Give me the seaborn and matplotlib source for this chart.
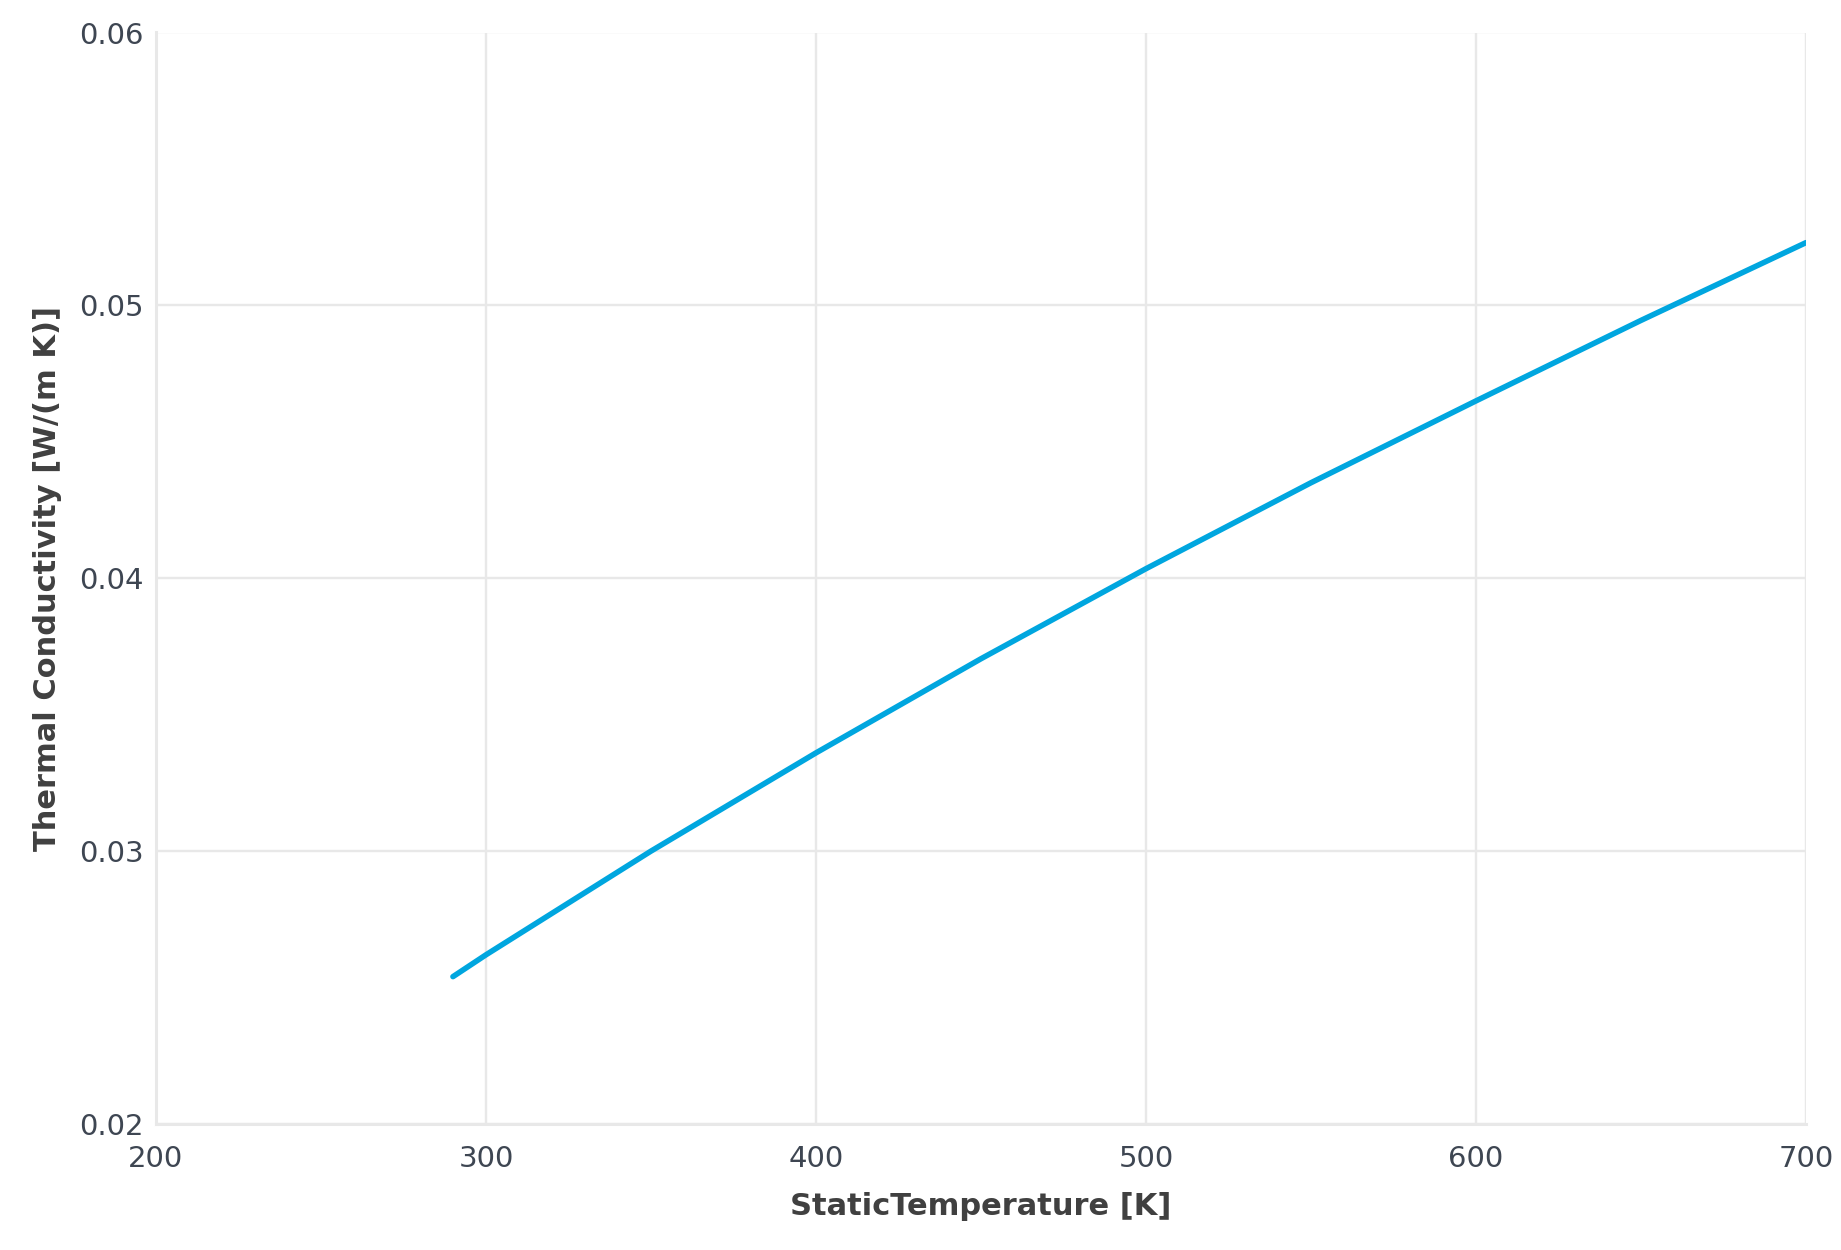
import matplotlib
matplotlib.use("Agg")
import matplotlib.pyplot as plt
import seaborn as sns
import pandas as pd

temperature = [290, 300, 350, 400, 450, 500, 550, 600, 650, 700]
conductivity = [0.0254, 0.0262, 0.0300, 0.0336, 0.03705, 0.04035, 0.0435, 0.0465, 0.04945, 0.0523]
x_ticks = [200, 300, 400, 500, 600, 700]
y_ticks = [0.02, 0.03, 0.04, 0.05, 0.06]
y_tick_labels = ["0.02", "0.03", "0.04", "0.05", "0.06"]

df = pd.DataFrame({"T": temperature, "k": conductivity})

sns.set_theme(style="white")
plt.rcParams['font.family'] = ['DejaVu Sans']

fig = plt.figure(figsize=(18.41, 12.50), dpi=100)
ax = fig.add_axes([0.0847, 0.1008, 0.981 - 0.0847, 0.974 - 0.1008])

grid_c = "#e8e8e8"
sns.lineplot(data=df, x="T", y="k", ax=ax, color="#00a6df", linewidth=4.0, zorder=3)
ax.lines[0].set_solid_capstyle("round")
ax.lines[0].set_solid_joinstyle("round")

ax.set_xlim(200, 700)
ax.set_ylim(0.02, 0.06)
ax.set_xticks(x_ticks)
ax.set_yticks(y_ticks)
ax.set_yticklabels(y_tick_labels)
ax.grid(True, color=grid_c, linewidth=1.7)
for s in ax.spines.values():
    s.set_visible(False)
ax.spines['left'].set_visible(True)
ax.spines['bottom'].set_visible(True)
ax.spines['left'].set_color(grid_c)
ax.spines['bottom'].set_color(grid_c)
ax.spines['left'].set_linewidth(2.2)
ax.spines['bottom'].set_linewidth(2.2)
ax.tick_params(axis='both', which='both', length=7, width=1.7, color=grid_c,
               labelsize=21, labelcolor="#3e4652")
ax.tick_params(axis='x', pad=8)
ax.tick_params(axis='y', length=5, pad=4)

ax.set_xlabel("StaticTemperature [K]", fontsize=22, fontweight="bold", color="#404040", labelpad=14)
ax.set_ylabel("Thermal Conductivity [W/(m K)]", fontsize=22, fontweight="bold", color="#404040", labelpad=12)

fig.savefig("out.png", dpi=100, facecolor="white")
